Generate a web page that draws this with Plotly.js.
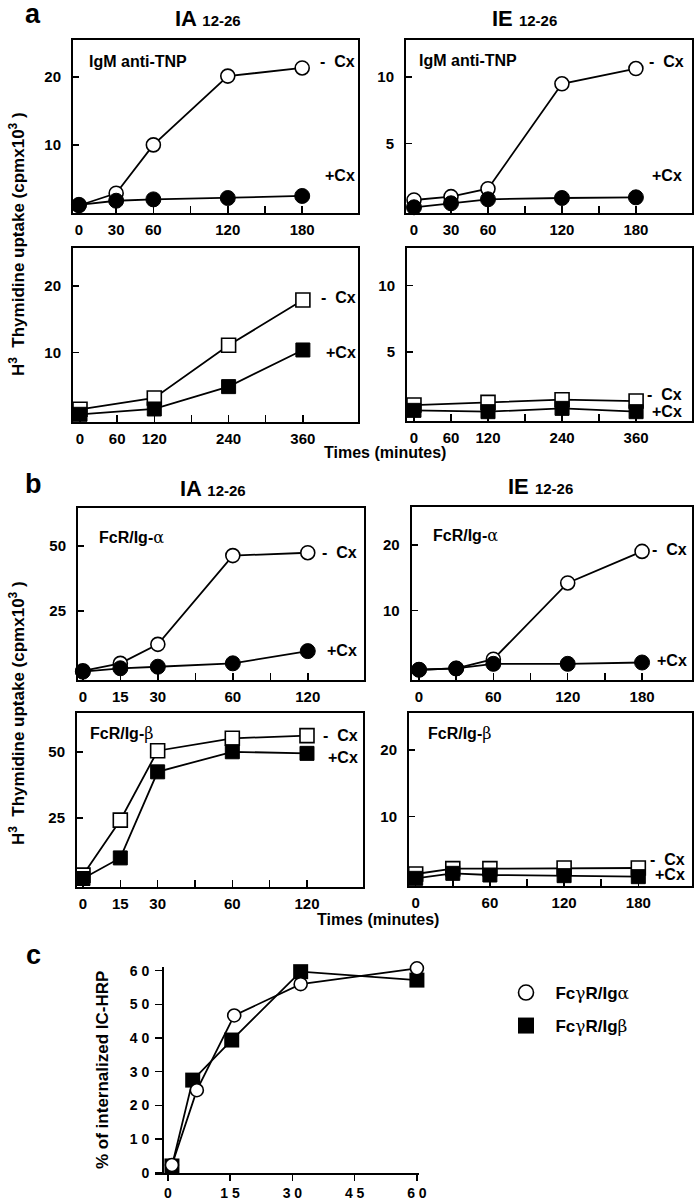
<!DOCTYPE html>
<html><head><meta charset="utf-8">
<script src="https://cdn.plot.ly/plotly-3.0.1.min.js"></script>
<style>html,body{margin:0;padding:0;background:#fff}#chart{width:698px;height:1200px}</style>
</head><body><div id="chart"></div>
<script>
// ---------- data ----------
const aTimeShort = [0, 30, 60, 120, 180];
const aIA_IgM_minusCx = [1.1, 2.9, 10.0, 20.1, 21.3];
const aIA_IgM_plusCx  = [1.2, 1.8, 2.0, 2.2, 2.5];
const aIE_IgM_minusCx = [0.75, 1.0, 1.6, 9.5, 10.65];
const aIE_IgM_plusCx  = [0.2, 0.5, 0.8, 0.9, 0.95];

const aTimeLong = [0, 120, 240, 360];
const aIA_sq_minusCx = [1.5, 3.2, 11.1, 17.9];
const aIA_sq_plusCx  = [0.75, 1.55, 4.9, 10.4];
const aIE_sq_minusCx = [1.0, 1.2, 1.4, 1.3];
const aIE_sq_plusCx  = [0.6, 0.5, 0.75, 0.5];

const bIA_time = ['0', '15', '30', '60', '120'];
const bIA_timeAxis = ['0', '15', '30', '45', '60', '90', '120'];
const bIA_alpha_minusCx = [2.0, 4.9, 12.2, 46.3, 47.4];
const bIA_alpha_plusCx  = [1.7, 3.0, 3.6, 4.9, 9.6];
const bIA_beta_minusCx  = [3.3, 24.1, 50.4, 55.1, 56.1];
const bIA_beta_plusCx   = [2.0, 9.8, 42.4, 50.0, 49.4];

const bIE_time = [0, 30, 60, 120, 180];
const bIE_alpha_minusCx = [1.0, 1.2, 2.6, 14.2, 19.0];
const bIE_alpha_plusCx  = [1.0, 1.2, 1.9, 1.9, 2.1];
const bIE_beta_minusCx  = [1.4, 2.2, 2.2, 2.3, 2.3];
const bIE_beta_plusCx   = [0.75, 1.5, 1.25, 1.15, 1.0];

const cAlphaTime = [1, 7, 16, 32, 60];
const cAlphaPct  = [2.3, 24.5, 46.7, 56.0, 60.7];
const cBetaTime  = [1, 6, 15.4, 32, 60];
const cBetaPct   = [2.0, 27.5, 39.4, 59.7, 57.2];

// tick labels
const tickA_short_vals = [0, 30, 60, 120, 180];
const tickA_short_minor = [90, 150];
const tickA_long_vals = [0, 60, 120, 240, 360];
const tickA_long_minor = [180, 300];
const tickB_IA_text = ['0', '15', '30', '', '60', '', '120'];
const tickB_IE_vals = [0, 60, 120, 180];
const tickB_IE_minor = [30, 90, 150];
const tickC_x_vals = [0, 15, 30, 45, 60];
const tickC_x_text = ['0', '1 5', '3 0', '4 5', '6 0'];
const tickC_y_vals = [0, 10, 20, 30, 40, 50, 60];
const tickC_y_text = ['0', '1 0', '2 0', '3 0', '4 0', '5 0', '6 0'];

// ---------- layout helpers ----------
const W = 698, H = 1200;
const FONT = 'Liberation Sans, Arial, Helvetica, sans-serif';
const fx = p => p / W;
const fy = p => 1 - p / H;
const GR = s => '<span style="font-family:\'DejaVu Serif\',serif;font-weight:normal">' + s + '</span>';

const boxes = [
  {x0: 73,    x1: 358, y0: 40,    y1: 213},    // 1 a IA top
  {x0: 406,   x1: 692, y0: 40,    y1: 213},    // 2 a IE top
  {x0: 73,    x1: 358, y0: 248,   y1: 421.5},  // 3 a IA bottom
  {x0: 407,   x1: 692, y0: 248,   y1: 421},    // 4 a IE bottom
  {x0: 78,    x1: 364, y0: 507.7, y1: 680},    // 5 b IA top
  {x0: 411.7, x1: 692, y0: 506.7, y1: 680},    // 6 b IE top
  {x0: 77,    x1: 363, y0: 712.7, y1: 886.7},  // 7 b IA bottom
  {x0: 409,   x1: 692, y0: 713.3, y1: 886},    // 8 b IE bottom
  {x0: 155,   x1: 419, y0: 967.3, y1: 1172.7}  // 9 c
];

const axSpec = [
  {xr: [-4.8, 225], yr: [0, 25.4], xv: tickA_short_vals, xm: tickA_short_minor, yv: [10, 20]},
  {xr: [-6.5, 225.5], yr: [-0.23, 12.8], xv: tickA_short_vals, xm: tickA_short_minor, yv: [5, 10]},
  {xr: [-11.3, 449], yr: [-0.33, 25.7], xv: tickA_long_vals, xm: tickA_long_minor, yv: [10, 20]},
  {xr: [-11.3, 450.6], yr: [-0.2, 12.8], xv: tickA_long_vals, xm: tickA_long_minor, yv: [5, 10]},
  {xr: [-0.13, 7.5], yr: [-1.5, 64.7], xv: bIA_timeAxis, xt: tickB_IA_text, yv: [25, 50], cat: true},
  {xr: [-5.9, 220.3], yr: [-0.56, 25.8], xv: tickB_IE_vals, xm: tickB_IE_minor, yv: [10, 20]},
  {xr: [-0.16, 7.5], yr: [-1.1, 64.8], xv: bIA_timeAxis, xt: tickB_IA_text, yv: [25, 50], cat: true},
  {xr: [-5.4, 223.4], yr: [-0.4, 25.5], xv: tickB_IE_vals, xm: tickB_IE_minor, yv: [10, 20]}
];

const layout = {
  width: W, height: H,
  margin: {l: 0, r: 0, t: 0, b: 0},
  paper_bgcolor: '#fff', plot_bgcolor: 'rgba(0,0,0,0)',
  font: {family: FONT, color: '#000', size: 15, weight: 700},
  showlegend: true,
  annotations: []
};

const tickFont = {family: FONT, size: 15, weight: 700, color: '#000'};
axSpec.forEach((s, k) => {
  const i = k + 1;
  const b = boxes[k];
  const sx = i === 1 ? '' : String(i);
  const xa = {
    domain: [fx(b.x0), fx(b.x1)], range: s.xr, anchor: 'y' + sx,
    showline: true, mirror: true, linewidth: 2, linecolor: '#000',
    ticks: 'inside', ticklen: 7, tickwidth: 1.5, tickcolor: '#000',
    tickmode: 'array', tickvals: s.xv, tickfont: tickFont,
    ticklabelstandoff: 2,
    showgrid: false, zeroline: false, fixedrange: true
  };
  if (s.xt) xa.ticktext = s.xt;
  if (s.xm) xa.minor = {tickmode: 'array', tickvals: s.xm, ticks: 'inside', ticklen: 7, tickwidth: 1.5, tickcolor: '#000', showgrid: false};
  if (s.cat) { xa.type = 'category'; xa.categoryorder = 'array'; xa.categoryarray = bIA_timeAxis; }
  const ya = {
    domain: [fy(b.y1), fy(b.y0)], range: s.yr, anchor: 'x' + sx,
    showline: true, mirror: true, linewidth: 2, linecolor: '#000',
    ticks: 'inside', ticklen: 6, tickwidth: 1.5, tickcolor: '#000',
    tickmode: 'array', tickvals: s.yv, tickfont: tickFont,
    ticklabelstandoff: 7,
    showgrid: false, zeroline: false, fixedrange: true
  };
  layout['xaxis' + sx] = xa;
  layout['yaxis' + sx] = ya;
});

// panel c axes
const bc = boxes[8];
const cTickFont = {family: FONT, size: 14, weight: 700, color: '#000'};
layout.xaxis9 = {
  domain: [fx(bc.x0), fx(bc.x1)], range: [-3.08, 60.5], anchor: 'y9',
  showline: true, linewidth: 2, linecolor: '#000',
  ticks: 'outside', ticklen: 6, tickwidth: 1.5, tickcolor: '#000',
  tickmode: 'array', tickvals: tickC_x_vals, ticktext: tickC_x_text, tickfont: cTickFont,
  showgrid: false, zeroline: false, fixedrange: true
};
layout.yaxis9 = {
  domain: [fy(bc.y1), fy(bc.y0)], range: [0, 61], anchor: 'free', position: fx(163),
  showline: true, linewidth: 2, linecolor: '#000',
  ticks: 'outside', ticklen: 7, tickwidth: 1.5, tickcolor: '#000',
  tickmode: 'array', tickvals: tickC_y_vals, ticktext: tickC_y_text, tickfont: cTickFont,
  ticklabelstandoff: 3,
  showgrid: false, zeroline: false, fixedrange: true
};

// ---------- traces ----------
const traces = [];
function pair(i, x, yMinus, yPlus, sym) {
  const ax = i === 1 ? '' : String(i);
  const common = {x: x, type: 'scatter', mode: 'lines+markers', xaxis: 'x' + ax, yaxis: 'y' + ax,
    cliponaxis: false, showlegend: false, hoverinfo: 'skip', line: {color: '#000', width: 1.8}};
  traces.push(Object.assign({}, common, {y: yMinus,
    marker: {symbol: sym, size: 14, color: '#fff', line: {color: '#000', width: 1.6}}}));
  traces.push(Object.assign({}, common, {y: yPlus,
    marker: {symbol: sym, size: sym === 'square' ? 14 : 15, color: '#000', line: {color: '#000', width: 1}}}));
}
pair(1, aTimeShort, aIA_IgM_minusCx, aIA_IgM_plusCx, 'circle');
pair(2, aTimeShort, aIE_IgM_minusCx, aIE_IgM_plusCx, 'circle');
pair(3, aTimeLong, aIA_sq_minusCx, aIA_sq_plusCx, 'square');
pair(4, aTimeLong, aIE_sq_minusCx, aIE_sq_plusCx, 'square');
pair(5, bIA_time, bIA_alpha_minusCx, bIA_alpha_plusCx, 'circle');
pair(6, bIE_time, bIE_alpha_minusCx, bIE_alpha_plusCx, 'circle');
pair(7, bIA_time, bIA_beta_minusCx, bIA_beta_plusCx, 'square');
pair(8, bIE_time, bIE_beta_minusCx, bIE_beta_plusCx, 'square');

// panel c
traces.push({x: cBetaTime, y: cBetaPct, type: 'scatter', mode: 'lines+markers', xaxis: 'x9', yaxis: 'y9',
  cliponaxis: false, showlegend: false, hoverinfo: 'skip', line: {color: '#000', width: 1.8},
  marker: {symbol: 'square', size: 15, color: '#000'}});
traces.push({x: cAlphaTime, y: cAlphaPct, type: 'scatter', mode: 'lines+markers', xaxis: 'x9', yaxis: 'y9',
  cliponaxis: false, showlegend: false, hoverinfo: 'skip', line: {color: '#000', width: 1.8},
  marker: {symbol: 'circle', size: 13, color: '#fff', line: {color: '#000', width: 1.6}}});
// legend entries
traces.push({x: [null], y: [null], type: 'scatter', mode: 'markers', xaxis: 'x9', yaxis: 'y9',
  name: '  Fc' + GR('γ') + 'R/Ig' + GR('α'), legend: 'legend',
  marker: {symbol: 'circle', size: 15, color: '#fff', line: {color: '#000', width: 1.6}}});
traces.push({x: [null], y: [null], type: 'scatter', mode: 'markers', xaxis: 'x9', yaxis: 'y9',
  name: '  Fc' + GR('γ') + 'R/Ig' + GR('β'), legend: 'legend2',
  marker: {symbol: 'square', size: 16, color: '#000'}});

const legFont = {family: FONT, size: 17, weight: 700, color: '#000'};
layout.legend = {x: fx(506), y: fy(993), xanchor: 'left', yanchor: 'middle', bgcolor: 'rgba(0,0,0,0)', borderwidth: 0, font: legFont};
layout.legend2 = {x: fx(506), y: fy(1026), xanchor: 'left', yanchor: 'middle', bgcolor: 'rgba(0,0,0,0)', borderwidth: 0, font: legFont};

// ---------- annotations ----------
function ann(text, x, y, opt) {
  layout.annotations.push(Object.assign({
    text: text, x: fx(x), y: fy(y), xref: 'paper', yref: 'paper', showarrow: false,
    xanchor: 'center', yanchor: 'middle', font: {family: FONT, size: 15, weight: 700, color: '#000'}
  }, opt || {}));
}
const big = {family: FONT, size: 27, weight: 700, color: '#000'};
ann('a', 33, 14, {font: big});
ann('b', 33, 484, {font: big});
ann('c', 33, 955, {font: big});
const ttl = {family: FONT, size: 22, weight: 700, color: '#000'};
ann('IA <span style="font-size:15px">12-26</span>', 208, 18, {font: ttl});
ann('IE <span style="font-size:15px">12-26</span>', 524, 18, {font: ttl});
ann('IA <span style="font-size:15px">12-26</span>', 213, 488, {font: ttl});
ann('IE <span style="font-size:15px">12-26</span>', 540, 487, {font: ttl});

const lbl = {family: FONT, size: 16, weight: 700, color: '#000'};
ann('IgM anti-TNP', 87, 62, {xanchor: 'left', font: lbl});
ann('IgM anti-TNP', 417, 61, {xanchor: 'left', font: lbl});
ann('FcR/Ig-' + GR('α'), 97, 538, {xanchor: 'left', font: lbl});
ann('FcR/Ig-' + GR('α'), 431, 535, {xanchor: 'left', font: lbl});
ann('FcR/Ig-' + GR('β'), 88, 733, {xanchor: 'left', font: lbl});
ann('FcR/Ig-' + GR('β'), 426, 733, {xanchor: 'left', font: lbl});

const cx = {family: FONT, size: 16, weight: 700, color: '#000'};
[
  ['-  Cx', 357, 62], ['+Cx', 357, 175],
  ['-  Cx', 686, 62], ['+Cx', 684, 175],
  ['-  Cx', 358, 298], ['+Cx', 358, 352],
  ['-  Cx', 684, 395], ['+Cx', 684, 412],
  ['-  Cx', 359, 552], ['+Cx', 359, 650],
  ['-  Cx', 689, 550], ['+Cx', 689, 660],
  ['-  Cx', 360, 735], ['+Cx', 360, 757],
  ['-  Cx', 687, 859], ['+Cx', 687, 874]
].forEach(t => ann(t[0], t[1], t[2], {xanchor: 'right', font: cx}));

const tm = {family: FONT, size: 16, weight: 700, color: '#000'};
ann('Times (minutes)', 385, 452, {font: tm});
ann('Times (minutes)', 378, 919, {font: tm});
const yt = {family: FONT, size: 17, weight: 700, color: '#000'};
ann('H<sup>3</sup>  Thymidine uptake (cpmx10<sup>3</sup> )', 17, 244, {textangle: -90, font: yt});
ann('H<sup>3</sup>  Thymidine uptake (cpmx10<sup>3</sup> )', 17, 713, {textangle: -90, font: yt});
ann('% of internalized IC-HRP', 102, 1070, {textangle: -90, font: {family: FONT, size: 17, weight: 700, color: '#000'}});

Plotly.newPlot('chart', traces, layout, {staticPlot: true, displayModeBar: false});
</script>
</body></html>
